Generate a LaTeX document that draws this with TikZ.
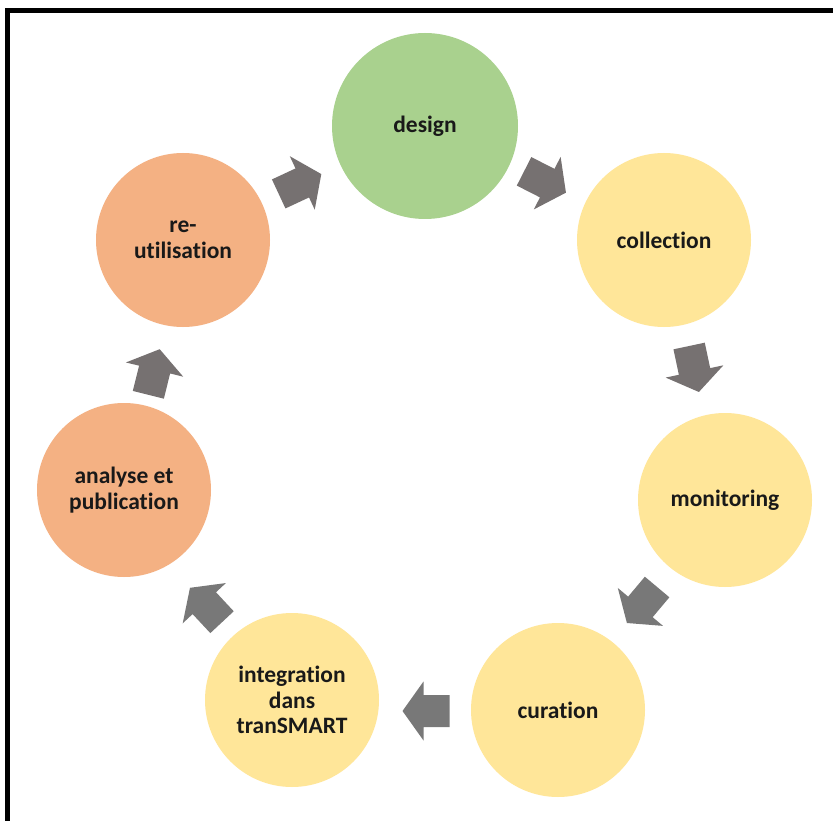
\documentclass[tikz,border=0pt]{standalone}
\usepackage{fontspec}
\setmainfont[Ligatures=NoCommon]{Carlito}
\definecolor{cgreen}{HTML}{A9D18E}
\definecolor{cyellow}{HTML}{FFE699}
\definecolor{corange}{HTML}{F4B183}
\definecolor{agray}{HTML}{767171}
\definecolor{agrayb}{HTML}{787878}
\tikzset{
  stage/.style={circle, minimum size=174pt, inner sep=0pt, align=center,
    font=\fontsize{23.5}{25.5}\selectfont\bfseries, text=black!90},
  pics/chunky/.style={code={\fill[#1] (-23.5,-16) -- (2.5,-16) -- (2.5,-29.5) -- (23.5,0) -- (2.5,29.5) -- (2.5,16) -- (-23.5,16) -- cycle;}}
}
\begin{document}
\begin{tikzpicture}[x=1pt,y=-1pt]
\useasboundingbox (0,0) rectangle (833,821);
\fill[white] (0,0) rectangle (833,821);
% frame
\fill[black] (5,8) rectangle (833,13);
\fill[black] (5,8) rectangle (10,821);
% stages
\node[stage, fill=cgreen, minimum size=186pt] (design) at (425,126) {design};
\node[stage, fill=cyellow] (collection) at (664,240) {collection};
\node[stage, fill=cyellow] (monitoring) at (725,500) {monitoring};
\node[stage, fill=cyellow] (curation) at (558,710) {curation};
\node[stage, fill=cyellow] (integration) at (292,700) {integration\\dans\\tranSMART};
\node[stage, fill=corange] (analyse) at (124,490) {analyse et\\publication};
\node[stage, fill=corange] (reutil) at (183,240) {re-\\utilisation};
% arrows
\pic[rotate=25] at (300,184) {chunky=agray};
\pic[rotate=-27] at (545,182) {chunky=agray};
\pic[rotate=-78] at (694,369) {chunky=agray};
\pic[rotate=-130] at (642,605) {chunky=agrayb};
\pic[rotate=180] at (426,711) {chunky=agrayb};
\pic[rotate=133] at (206,605) {chunky=agrayb};
\pic[rotate=76] at (154,372) {chunky=agray};
\end{tikzpicture}
\end{document}
